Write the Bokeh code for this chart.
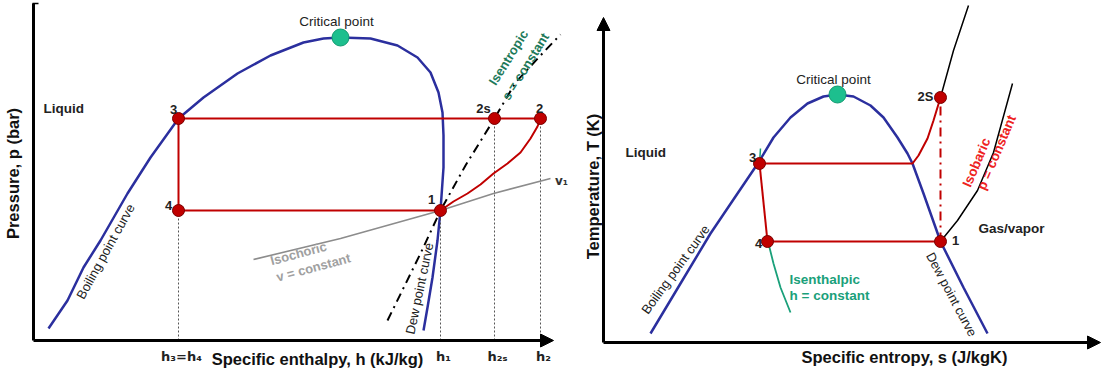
from bokeh.plotting import figure
from bokeh.layouts import row
from bokeh.models import Range1d, Arrow, NormalHead
from bokeh.core.properties import value
from bokeh.embed import file_html
from bokeh.resources import INLINE

FONT = "Liberation Sans"
BLUE = "#2b2f9e"
RED = "#c00000"
MK_LINE = "#7a0000"
TEAL = "#1dbf8e"

# ---------------- p-h diagram (left) ----------------
ph_boil_h = [15, 34, 50, 67, 94, 117, 145, 170, 204, 237, 270, 290, 307]
ph_boil_p = [12, 40, 73, 100, 147, 183, 222, 243, 267, 285, 298, 302, 303]
ph_dew_h = [307, 337, 364, 384, 397, 405, 409, 410, 410, 407, 404, 399, 394, 390]
ph_dew_p = [303, 302, 295, 283, 268, 248, 228, 205, 173, 130, 100, 63, 33, 10]
ph_crit = (307, 303)

ph_state_name = ["1", "2s", "2", "3", "4"]
ph_state_h = [407, 461, 507, 145, 145]
ph_state_p = [130, 222, 222, 222, 130]
ph_comp_h = [407, 420, 434, 447, 460, 474, 487, 497, 504, 507]
ph_comp_p = [130, 139, 147, 156, 167, 177, 188, 202, 214, 222]

ph_isen_h = [354, 387, 407, 432, 461, 482, 507, 527]
ph_isen_p = [20, 87, 130, 175, 222, 258, 285, 306]
ph_isoch_h = [220, 307, 407, 460, 517]
ph_isoch_p = [81, 102, 130, 147, 162]

ph_tick_h = [145, 407, 461, 507]
ph_tick_labels = ["h\u2083=h\u2084", "h\u2081", "h\u2082\u209b", "h\u2082"]

# ---------------- T-s diagram (right) ----------------
ts_boil_s = [47, 77, 107, 134, 155, 170, 187, 204, 220, 234]
ts_boil_T = [9, 59, 109, 149, 180, 205, 225, 239, 246, 248]
ts_dew_s = [234, 250, 267, 280, 294, 304, 309, 320, 337, 360, 384]
ts_dew_T = [248, 246, 237, 225, 205, 189, 179, 149, 101, 55, 9]
ts_crit = (234, 248)

ts_state_name = ["1", "2S", "3", "4"]
ts_state_s = [337, 337, 156, 164]
ts_state_T = [101, 245, 179, 101]
ts_heat_s = [156, 309, 315, 324, 330, 337]
ts_heat_T = [179, 179, 187, 204, 222, 245]
ts_isenth_s = [164, 165, 170, 177, 187]
ts_isenth_T = [101, 99, 79, 55, 30]
ts_isobar_hi_s = [337, 350, 359, 365]
ts_isobar_hi_T = [245, 292, 319, 337]
ts_isobar_lo_s = [337, 354, 374, 390, 409]
ts_isobar_lo_T = [101, 122, 152, 190, 259]


def make_fig(w, xr, yr):
    p = figure(width=w, height=373, x_range=Range1d(*xr), y_range=Range1d(*yr),
               output_backend="svg", toolbar_location=None,
               x_axis_location=None, y_axis_location=None, min_border=0)
    p.grid.visible = False
    p.outline_line_color = None
    return p


def lab(p, x, y, txt, size="13px", bold=False, color="#222222", angle=0,
        align="center", x_offset=0, font=FONT):
    p.text(x=x, y=y, text=txt, angle=angle, angle_units="deg",
           text_font=value(font), text_font_size=size,
           text_font_style="bold" if bold else "normal",
           text_color=color, text_align=align, text_baseline="middle",
           x_offset=x_offset)


# ===== left =====
L = make_fig(575, (-33, 542), (-33, 340))
L.line(ph_isoch_h, ph_isoch_p, line_color="#8c8c8c", line_width=1.6)
L.line(ph_isen_h, ph_isen_p, line_color="black", line_width=2, line_dash="9 5 2 5")
L.line(ph_boil_h, ph_boil_p, line_color=BLUE, line_width=2.5)
L.line(ph_dew_h, ph_dew_p, line_color=BLUE, line_width=2.5)
# dotted projections
for hv, pv in [(ph_state_h[3], ph_state_p[4]), (ph_state_h[0], ph_state_p[0]),
               (ph_state_h[1], ph_state_p[1]), (ph_state_h[2], ph_state_p[2])]:
    L.line([hv, hv], [0, pv], line_color="#555555", line_width=1, line_dash="2 2")
# cycle
L.line([ph_state_h[3], ph_state_h[2]], [ph_state_p[3], ph_state_p[2]], line_color=RED, line_width=2)
L.line([ph_state_h[3], ph_state_h[4]], [ph_state_p[3], ph_state_p[4]], line_color=RED, line_width=2)
L.line([ph_state_h[4], ph_state_h[0]], [ph_state_p[4], ph_state_p[0]], line_color=RED, line_width=2)
L.line(ph_comp_h, ph_comp_p, line_color=RED, line_width=2)
L.scatter(ph_state_h, ph_state_p, size=12, fill_color=RED, line_color=MK_LINE, line_width=1)
L.scatter([ph_crit[0]], [ph_crit[1]], size=17, fill_color=TEAL, line_color="#119a70", line_width=1)
# axes
L.line([0, 0], [0, 337], line_color="black", line_width=3)
L.line([-1, 5], [337, 337], line_color="black", line_width=1.5)
L.add_layout(Arrow(x_start=0, y_start=0, x_end=520, y_end=0, line_width=3,
                   end=NormalHead(size=13, fill_color="black", line_color="black")))
lab(L, ph_tick_h, [-16] * 4, ph_tick_labels, size="13px", bold=True, x_offset=3,
    font="DejaVu Sans")
lab(L, [284], [-18], ["Specific enthalpy, h (kJ/kg)"], size="16.5px", bold=True, color="#111111")
lab(L, [-21], [167], ["Pressure, p (bar)"], size="16.5px", bold=True, color="#111111", angle=90)
# annotations
lab(L, [10], [232], ["Liquid"], size="13.5px", bold=True, align="left")
lab(L, [303], [319], ["Critical point"], size="13.5px")
lab(L, [398, 450, 506, 140, 135], [141, 232, 232, 231, 135], ph_state_name, size="13px", bold=True)
lab(L, [528], [160], ["v\u2081"], size="12px", bold=True, color="#333333", font="DejaVu Sans")
lab(L, [265], [87], ["Isochoric"], size="13px", bold=True, color="#a0a0a0", angle=15)
lab(L, [280], [73], ["v = constant"], size="13px", bold=True, color="#a0a0a0", angle=15)
lab(L, [475], [283], ["Isentropic"], size="13px", bold=True, color="#1e7a5a", angle=58)
lab(L, [492], [274], ["s = constant"], size="13px", bold=True, color="#1e7a5a", angle=58)
lab(L, [72], [89], ["Boiling point curve"], size="13px", angle=61)
lab(L, [386], [52], ["Dew point curve"], size="13px", angle=78)

# ===== right =====
R = make_fig(527, (-28, 499), (-31, 342))
R.line(ts_isobar_hi_s, ts_isobar_hi_T, line_color="black", line_width=1.5)
R.line(ts_isobar_lo_s, ts_isobar_lo_T, line_color="black", line_width=1.5)
R.line(ts_boil_s, ts_boil_T, line_color=BLUE, line_width=2.5)
R.line(ts_dew_s, ts_dew_T, line_color=BLUE, line_width=2.5)
R.line([ts_state_s[2], ts_state_s[2] + 1], [ts_state_T[2], ts_state_T[2] + 15], line_color="#1aa07a", line_width=1.5)
R.line(ts_isenth_s, ts_isenth_T, line_color="#1aa07a", line_width=1.8)
R.line(ts_heat_s, ts_heat_T, line_color=RED, line_width=2)
R.line([ts_state_s[2], ts_state_s[3]], [ts_state_T[2], ts_state_T[3]], line_color=RED, line_width=2)
R.line([ts_state_s[3], ts_state_s[0]], [ts_state_T[3], ts_state_T[0]], line_color=RED, line_width=2)
R.line([ts_state_s[0], ts_state_s[1]], [ts_state_T[0], ts_state_T[1]], line_color=RED, line_width=2,
       line_dash="9 5 2 5")
R.scatter(ts_state_s, ts_state_T, size=12, fill_color=RED, line_color=MK_LINE, line_width=1)
R.scatter([ts_crit[0]], [ts_crit[1]], size=17, fill_color=TEAL, line_color="#119a70", line_width=1)
R.add_layout(Arrow(x_start=0, y_start=0, x_end=0, y_end=325, line_width=3,
                   end=NormalHead(size=13, fill_color="black", line_color="black")))
R.add_layout(Arrow(x_start=0, y_start=0, x_end=497, y_end=0, line_width=3,
                   end=NormalHead(size=13, fill_color="black", line_color="black")))
lab(R, [301], [-14], ["Specific entropy, s (J/kgK)"], size="16.5px", bold=True, color="#111111")
lab(R, [-11], [156], ["Temperature, T (K)"], size="16.5px", bold=True, color="#111111", angle=90)
lab(R, [22], [190], ["Liquid"], size="13.5px", bold=True, align="left")
lab(R, [230], [263], ["Critical point"], size="13.5px")
lab(R, [352, 322, 149, 155], [102, 246, 185, 99], ts_state_name, size="13px", bold=True)
lab(R, [375], [114], ["Gas/vapor"], size="13.5px", bold=True, align="left")
lab(R, [373], [180], ["Isobaric"], size="13.5px", bold=True, color="#ee2222", angle=67)
lab(R, [393], [190], ["p = constant"], size="13.5px", bold=True, color="#ee2222", angle=67)
lab(R, [186, 186], [63, 47], ["Isenthalpic", "h = constant"], size="13.5px", bold=True,
    color="#1aa07a", align="left")
lab(R, [348], [48], ["Dew point curve"], size="13px", angle=-62)
lab(R, [72], [73], ["Boiling point curve"], size="13px", angle=54)

layout = row(L, R)
open("out.html", "w").write(file_html(layout, INLINE))
